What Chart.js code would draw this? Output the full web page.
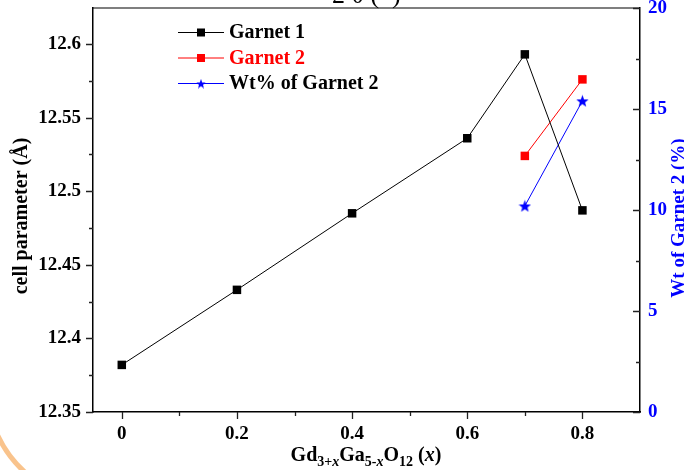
<!DOCTYPE html>
<html>
<head>
<meta charset="utf-8">
<script src="https://cdn.jsdelivr.net/npm/chart.js@4"></script>
<style>
  html, body { margin: 0; padding: 0; background: #fff; overflow: hidden; }
  #wrap { width: 684px; height: 470px; }
</style>
</head>
<body>
<div id="wrap"><canvas id="my-chart" width="684" height="470"></canvas></div>
<script>
// composition x values
const xValues = [0, 0.2, 0.4, 0.6, 0.7, 0.8];
// cell parameter (A)
const garnet1 = [12.382, 12.433, 12.485, 12.536, 12.593, 12.487];
const garnet2 = [null, null, null, null, 12.524, 12.576];
// weight percent of garnet 2
const wtGarnet2 = [null, null, null, null, 10.2, 15.4];

const seriesNames = ["Garnet 1", "Garnet 2", "Wt% of Garnet 2"];
const legendTextColors = ["#000000", "#ff0000", "#000000"];

const xTicks = [0, 0.2, 0.4, 0.6, 0.8];
const xMinor = [0.1, 0.3, 0.5, 0.7];
const yTicks = [12.35, 12.4, 12.45, 12.5, 12.55, 12.6];
const yMinor = [12.375, 12.425, 12.475, 12.525, 12.575];
const wtTicks = [0, 5, 10, 15, 20];
const wtMinor = [2.5, 7.5, 12.5, 17.5];

const SERIF = "'Liberation Serif', 'Times New Roman', serif";

function toPoints(ys) {
    return xValues.map((x, i) => ({ x: x, y: ys[i] }));
}

// filled five point star used as marker
function makeStar(size, color) {
    const c = document.createElement("canvas");
    c.width = size;
    c.height = size;
    const g = c.getContext("2d");
    const cx = size / 2, cy = size / 2 + 0.6;
    const outer = size / 2, inner = outer * 0.42;
    g.beginPath();
    for (let i = 0; i < 10; i++) {
        const r = i % 2 === 0 ? outer : inner;
        const ang = -Math.PI / 2 + i * Math.PI / 5;
        const px = cx + r * Math.cos(ang), py = cy + r * Math.sin(ang);
        if (i === 0) g.moveTo(px, py); else g.lineTo(px, py);
    }
    g.closePath();
    g.fillStyle = color;
    g.fill();
    return c;
}

const starBig = makeStar(13, "#0000ff");
const starSmall = makeStar(10, "#0000ff");

function fixTicks(list) {
    return scale => {
        scale.ticks = list.map(v => ({ value: v }));
    };
}

const decor = {
    id: "decor",
    afterDraw(chart) {
        const ctx = chart.ctx;
        const a = chart.chartArea;
        const sx = chart.scales.x, sy = chart.scales.y, sw = chart.scales.y1;
        ctx.save();

        // top frame line
        ctx.strokeStyle = "#000";
        ctx.lineWidth = 1.2;
        ctx.beginPath();
        ctx.moveTo(a.left, a.top);
        ctx.lineTo(a.right, a.top);
        ctx.stroke();

        // tick marks
        ctx.lineWidth = 1.3;
        ctx.strokeStyle = "#222";
        ctx.beginPath();
        xTicks.forEach(v => { const p = Math.round(sx.getPixelForValue(v)) + 0.5; ctx.moveTo(p, a.bottom); ctx.lineTo(p, a.bottom + 7); });
        xMinor.forEach(v => { const p = Math.round(sx.getPixelForValue(v)) + 0.5; ctx.moveTo(p, a.bottom); ctx.lineTo(p, a.bottom + 4); });
        yTicks.forEach(v => { const p = Math.round(sy.getPixelForValue(v)) + 0.5; ctx.moveTo(a.left, p); ctx.lineTo(a.left - 7, p); });
        yMinor.forEach(v => { const p = Math.round(sy.getPixelForValue(v)) + 0.5; ctx.moveTo(a.left, p); ctx.lineTo(a.left - 4, p); });
        wtTicks.forEach(v => { const p = Math.round(sw.getPixelForValue(v)) + 0.5; ctx.moveTo(a.right, p); ctx.lineTo(a.right - 7, p); });
        wtMinor.forEach(v => { const p = Math.round(sw.getPixelForValue(v)) + 0.5; ctx.moveTo(a.right, p); ctx.lineTo(a.right - 4, p); });
        ctx.stroke();

        // legend
        chart.data.datasets.forEach((ds, i) => {
            const y = 32 + i * 25.5;
            ctx.strokeStyle = ds.borderColor;
            ctx.lineWidth = 1;
            ctx.beginPath();
            ctx.moveTo(178, y + 0.5);
            ctx.lineTo(224, y + 0.5);
            ctx.stroke();
            if (ds.pointStyle === "rect") {
                ctx.fillStyle = ds.backgroundColor;
                ctx.fillRect(197, y - 3.5, 8, 8);
            } else {
                ctx.drawImage(starSmall, 196, y - 4.5);
            }
            ctx.fillStyle = legendTextColors[i];
            ctx.font = "bold 20px " + SERIF;
            ctx.textBaseline = "middle";
            ctx.textAlign = "left";
            ctx.fillText(ds.label, 229, y + 1);
        });

        // left axis title
        ctx.save();
        ctx.translate(22, 216);
        ctx.rotate(-Math.PI / 2);
        ctx.fillStyle = "#000";
        ctx.font = "bold 20px " + SERIF;
        ctx.textAlign = "center";
        ctx.textBaseline = "middle";
        ctx.fillText("cell parameter (Å)", 0, 0);
        ctx.restore();

        // right axis title (runs off the edge)
        ctx.save();
        ctx.translate(679, 218);
        ctx.rotate(-Math.PI / 2);
        ctx.fillStyle = "#0000ff";
        ctx.font = "bold 19px " + SERIF;
        ctx.textAlign = "center";
        ctx.textBaseline = "middle";
        ctx.fillText("Wt of Garnet 2 (%)", 0, 0);
        ctx.restore();

        // bottom axis title with subscripts
        const parts = [
            { t: "Gd", sub: false, it: false },
            { t: "3+", sub: true, it: false },
            { t: "x", sub: true, it: true },
            { t: "Ga", sub: false, it: false },
            { t: "5-", sub: true, it: false },
            { t: "x", sub: true, it: true },
            { t: "O", sub: false, it: false },
            { t: "12", sub: true, it: false },
            { t: " (", sub: false, it: false },
            { t: "x", sub: false, it: true },
            { t: ")", sub: false, it: false }
        ];
        const fontOf = p => (p.it ? "italic " : "") + "bold " + (p.sub ? "14px " : "20px ") + SERIF;
        let total = 0;
        parts.forEach(p => { ctx.font = fontOf(p); total += ctx.measureText(p.t).width; });
        let cx = 366 - total / 2;
        ctx.fillStyle = "#000";
        ctx.textAlign = "left";
        ctx.textBaseline = "alphabetic";
        parts.forEach(p => {
            ctx.font = fontOf(p);
            ctx.fillText(p.t, cx, p.sub ? 466 : 461);
            cx += ctx.measureText(p.t).width;
        });

        // cut-off heading from the figure above
        ctx.font = "26px " + SERIF;
        ctx.fillStyle = "#000";
        ctx.fillText("2 θ (  )", 332, 3);

        // orange arc in the corner
        ctx.strokeStyle = "rgba(248, 184, 120, 0.85)";
        ctx.lineWidth = 5;
        ctx.beginPath();
        ctx.moveTo(-3, 434);
        ctx.quadraticCurveTo(8, 458, 27, 474);
        ctx.stroke();

        ctx.restore();
    }
};

const ctx = document.getElementById("my-chart").getContext("2d");

const myChart = new Chart(ctx, {
    type: "line",
    data: {
        datasets: [
            {
                label: seriesNames[0],
                data: toPoints(garnet1),
                borderColor: "#000000",
                backgroundColor: "#000000",
                borderWidth: 1,
                pointStyle: "rect",
                pointRadius: 6,
                pointBorderWidth: 0,
                yAxisID: "y"
            },
            {
                label: seriesNames[1],
                data: toPoints(garnet2),
                borderColor: "#ff0000",
                backgroundColor: "#ff0000",
                borderWidth: 1,
                pointStyle: "rect",
                pointRadius: 6,
                pointBorderWidth: 0,
                yAxisID: "y"
            },
            {
                label: seriesNames[2],
                data: toPoints(wtGarnet2),
                borderColor: "#0000ff",
                backgroundColor: "#0000ff",
                borderWidth: 1,
                pointStyle: starBig,
                pointRadius: 6,
                yAxisID: "y1"
            }
        ]
    },
    options: {
        responsive: false,
        animation: false,
        layout: { padding: { top: 8, left: 0, right: 0, bottom: 0 } },
        plugins: {
            legend: { display: false },
            tooltip: { enabled: false }
        },
        scales: {
            x: {
                type: "linear",
                min: -0.05,
                max: 0.9,
                afterBuildTicks: fixTicks(xTicks),
                afterFit: s => { s.height = 58; s.paddingLeft = 0; s.paddingRight = 0; },
                grid: { display: false, drawTicks: false },
                border: { display: true, color: "#000", width: 1.5 },
                ticks: {
                    color: "#000",
                    padding: 11,
                    maxRotation: 0,
                    font: { family: SERIF, size: 19, weight: "bold" },
                    callback: v => String(v)
                }
            },
            y: {
                position: "left",
                min: 12.35,
                max: 12.6245,
                afterBuildTicks: fixTicks(yTicks),
                afterFit: s => { s.width = 93; s.paddingTop = 0; s.paddingBottom = 0; },
                grid: { display: false, drawTicks: false },
                border: { display: true, color: "#000", width: 1.5 },
                ticks: {
                    color: "#000",
                    padding: 12,
                    font: { family: SERIF, size: 19, weight: "bold" },
                    callback: v => String(v)
                }
            },
            y1: {
                position: "right",
                min: 0,
                max: 20,
                afterBuildTicks: fixTicks(wtTicks),
                afterFit: s => { s.width = 44; s.paddingTop = 0; s.paddingBottom = 0; },
                grid: { display: false, drawTicks: false },
                border: { display: true, color: "#000", width: 1.5 },
                ticks: {
                    color: "#0000ff",
                    padding: 8,
                    font: { family: SERIF, size: 19, weight: "bold" },
                    callback: v => String(v)
                }
            }
        }
    },
    plugins: [decor]
});
</script>
</body>
</html>
